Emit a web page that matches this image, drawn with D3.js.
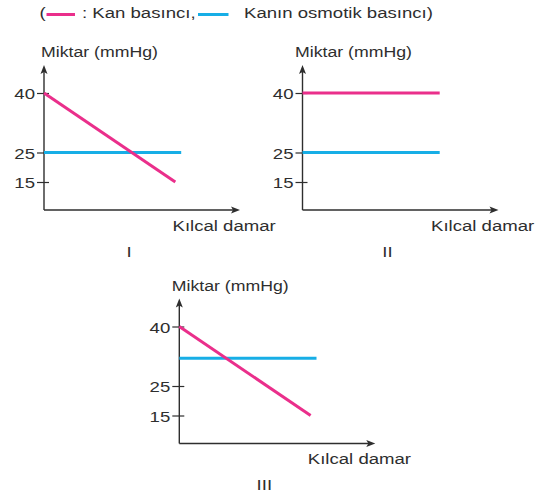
<!DOCTYPE html>
<html><head><meta charset="utf-8">
<script src="https://cdn.jsdelivr.net/npm/d3@7"></script>
<style>
html,body{margin:0;padding:0;background:#fff;}
svg{display:block;font-family:"Liberation Sans",Arial,Helvetica,sans-serif;}
</style></head>
<body>
<svg id="c" width="544" height="495"></svg>
<script>
// ---- data ----
const panelNames = ["I", "II", "III"];
const yTickValues = [40, 25, 15];
const yAxisTitle = "Miktar (mmHg)";
const xAxisTitle = "Kılcal damar";
const seriesNames = [": Kan basıncı,", "Kanın osmotik basıncı)"];
// Kan basıncı (pink): start / end values and end position along capillary (0..1)
const bloodStart = [40, 40, 40];
const bloodEnd = [15, 40, 15];
const bloodEndX = [0.67, 0.70, 0.67];
// Kanın osmotik basıncı (blue)
const osmoticStart = [25, 25, 32];
const osmoticEnd = [25, 25, 32];
const osmoticEndX = [0.70, 0.70, 0.70];

// ---- layout ----
const PINK = "#EA2F8B", BLUE = "#17AEE6", INK = "#2e2e2e";
const FS = 15, SX = 1.24;
const layout = [
  {ox: 44, oy: 210},
  {ox: 302.5, oy: 210},
  {ox: 179.3, oy: 443.5}
];
const svg = d3.select("#c");

function txt(g, x, y, s, anchor, sx) {
  return g.append("text")
    .attr("transform", `translate(${x},${y}) scale(${sx || SX},1)`)
    .attr("text-anchor", anchor || "start")
    .attr("font-size", FS)
    .attr("fill", INK)
    .text(s);
}

// legend
const lg = svg.append("g");
txt(lg, 39.5, 17.5, "(");
lg.append("line").attr("x1", 46.5).attr("x2", 75).attr("y1", 14.5).attr("y2", 14.5)
  .attr("stroke", PINK).attr("stroke-width", 3);
txt(lg, 82, 17.5, seriesNames[0]);
lg.append("line").attr("x1", 198).attr("x2", 228.5).attr("y1", 14.5).attr("y2", 14.5)
  .attr("stroke", BLUE).attr("stroke-width", 3);
txt(lg, 244, 17.5, seriesNames[1]);

panelNames.forEach((name, i) => {
  const {ox, oy} = layout[i];
  const g = svg.append("g");
  const x = d3.scaleLinear().domain([0, 1]).range([ox, ox + 196]);
  // schematic (non-uniform) value axis
  const y = d3.scaleLinear().domain([15, 25, 40]).range([oy - 28, oy - 57.5, oy - 117]);
  const topY = oy - 145;

  // axes lines
  g.append("line").attr("x1", ox).attr("x2", ox).attr("y1", oy).attr("y2", topY + 6)
    .attr("stroke", INK).attr("stroke-width", 1.4);
  g.append("line").attr("x1", ox).attr("x2", x(1) - 6).attr("y1", oy).attr("y2", oy)
    .attr("stroke", INK).attr("stroke-width", 1.4);
  // arrowheads
  g.append("path").attr("d", `M${ox},${topY} L${ox - 3.5},${topY + 9} L${ox},${topY + 7} L${ox + 3.5},${topY + 9} Z`)
    .attr("fill", INK);
  const tx = x(1);
  g.append("path").attr("d", `M${tx},${oy} L${tx - 9},${oy - 3.5} L${tx - 7},${oy} L${tx - 9},${oy + 3.5} Z`)
    .attr("fill", INK);

  // ticks with d3 axis
  const ax = d3.axisLeft(y).tickValues(yTickValues).tickSizeOuter(0).tickSizeInner(7).tickPadding(2);
  const ag = g.append("g").attr("transform", `translate(${ox},0)`).call(ax);
  ag.select(".domain").remove();
  ag.selectAll(".tick line").attr("stroke", INK).attr("stroke-width", 1.2).attr("x2", 5).attr("x1", -7);
  ag.selectAll(".tick text").remove();
  ag.selectAll(".tick").each(function(d) {
    d3.select(this).append("text")
      .attr("transform", `translate(-9,5.5) scale(${SX},1)`)
      .attr("text-anchor", "end").attr("font-size", FS).attr("fill", INK)
      .attr("font-family", "Liberation Sans, Arial, sans-serif")
      .text(d);
  });

  const line = d3.line().x(d => x(d[0])).y(d => y(d[1]));
  g.append("path").datum([[0, osmoticStart[i]], [osmoticEndX[i], osmoticEnd[i]]])
    .attr("d", line).attr("fill", "none").attr("stroke", BLUE).attr("stroke-width", 3.2);
  g.append("path").datum([[0, bloodStart[i]], [bloodEndX[i], bloodEnd[i]]])
    .attr("d", line).attr("fill", "none").attr("stroke", PINK).attr("stroke-width", 3);

  // titles
  txt(g, ox - (i === 0 ? 3 : 7.5), oy - 153, yAxisTitle, "start", 1.18);
  txt(g, ox + 128.5, oy + 20.5, xAxisTitle);
  txt(g, ox + 85, oy + 46.5, name, "middle");
});
</script>
</body></html>
